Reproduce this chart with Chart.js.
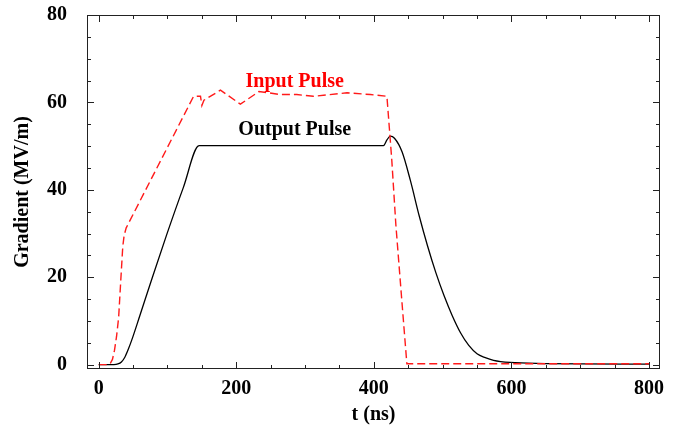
<!DOCTYPE html>
<html>
<head>
<meta charset="utf-8">
<script src="https://cdn.jsdelivr.net/npm/chart.js@4.4.1/dist/chart.umd.min.js"></script>
<style>
  html, body { margin: 0; padding: 0; background: #fff; }
  #wrap { width: 673px; height: 433px; }
</style>
</head>
<body>
<div id="wrap"><canvas id="pulseChart"></canvas></div>
<script>
// time axis (ns) and gradient (MV/m) for each pulse
const inputT = [0, 14, 17, 20, 23, 26, 29, 32, 35, 37, 40, 138, 148, 150, 153, 177, 206, 233, 247, 264, 288, 312, 361, 395, 419, 426, 432, 440, 448, 500, 600, 700, 800];
const inputG = [0, 0, 0.3, 1.2, 3.3, 6.5, 10.8, 19, 27, 29.6, 31.3, 61.4, 61.4, 59.3, 60.5, 62.8, 59.6, 62.5, 62.2, 61.8, 61.8, 61.4, 62.2, 61.8, 61.4, 47, 32, 16, 0.2, 0.2, 0.2, 0.2, 0.2];

const outputT = [0, 22, 28, 33, 38, 43, 48, 60, 75, 99, 123, 146, 300, 414, 419, 424, 430, 441, 453, 466, 478, 490, 502, 514, 526, 538, 550, 562, 574, 598, 650, 700, 800];
const outputG = [0, 0, 0.15, 0.6, 1.7, 3.5, 5.6, 11.3, 18.5, 29.8, 40.5, 50.1, 50.1, 50.1, 51.4, 52.3, 51.8, 48.7, 42.2, 34, 27.2, 21.1, 15.8, 11.2, 7.3, 4.4, 2.5, 1.6, 1.0, 0.5, 0.25, 0.15, 0.1];

const xMajor = [0, 200, 400, 600, 800];
const yMajor = [0, 20, 40, 60, 80];

// curve labels placed in data coordinates
const curveLabels = [
  { text: 'Input Pulse', t: 285, g: 64.7, color: '#ff0000' },
  { text: 'Output Pulse', t: 285, g: 53.8, color: '#000000' }
];

function toPoints(xs, ys) {
  return xs.map((x, i) => ({ x: x, y: ys[i] }));
}

const serif = '"Liberation Serif", "Times New Roman", serif';
Chart.defaults.color = '#000';

// frame, inward ticks on all four sides, and the curve labels
const framePlugin = {
  id: 'frame',
  afterDatasetsDraw(chart) {
    const { ctx, chartArea: a, scales } = chart;
    const xs = scales.x, ys = scales.y;
    ctx.save();
    ctx.strokeStyle = '#222';
    ctx.lineWidth = 1;
    ctx.strokeRect(a.left + 0.5, a.top + 0.5, a.right - a.left - 1, a.bottom - a.top - 1);
    ctx.beginPath();
    xs.ticks.forEach(tk => {
      const px = Math.round(xs.getPixelForValue(tk.value)) + 0.5;
      const len = xMajor.includes(tk.value) ? 7 : 4;
      ctx.moveTo(px, a.bottom); ctx.lineTo(px, a.bottom - len);
      ctx.moveTo(px, a.top); ctx.lineTo(px, a.top + len);
    });
    ys.ticks.forEach(tk => {
      const py = Math.round(ys.getPixelForValue(tk.value)) + 0.5;
      const len = yMajor.includes(tk.value) ? 7 : 4;
      ctx.moveTo(a.left, py); ctx.lineTo(a.left + len, py);
      ctx.moveTo(a.right, py); ctx.lineTo(a.right - len, py);
    });
    ctx.stroke();

    ctx.font = 'bold 20px ' + serif;
    ctx.textAlign = 'center';
    ctx.textBaseline = 'middle';
    curveLabels.forEach(l => {
      ctx.fillStyle = l.color;
      ctx.fillText(l.text, xs.getPixelForValue(l.t), ys.getPixelForValue(l.g));
    });
    ctx.restore();
  }
};

const ctx = document.getElementById('pulseChart').getContext('2d');

const pulseChart = new Chart(ctx, {
  type: 'scatter',
  data: {
    datasets: [
      {
        label: 'Input Pulse',
        data: toPoints(inputT, inputG),
        showLine: true,
        borderColor: '#ff1a1a',
        borderWidth: 1.4,
        borderDash: [8, 4],
        pointRadius: 0,
        tension: 0
      },
      {
        label: 'Output Pulse',
        data: toPoints(outputT, outputG),
        showLine: true,
        borderColor: '#000',
        borderWidth: 1.3,
        pointRadius: 0,
        cubicInterpolationMode: 'monotone'
      }
    ]
  },
  options: {
    responsive: true,
    maintainAspectRatio: false,
    animation: false,
    events: [],
    layout: { padding: { top: 15, right: 13, left: 0, bottom: 0 } },
    plugins: {
      legend: { display: false },
      tooltip: { enabled: false }
    },
    scales: {
      x: {
        type: 'linear',
        min: -17,
        max: 816,
        grid: { display: false },
        border: { display: false },
        ticks: {
          stepSize: 50,
          includeBounds: false,
          autoSkip: false,
          maxRotation: 0,
          padding: 0,
          font: { family: serif, size: 20, weight: 'bold' },
          callback: v => (xMajor.includes(v) ? String(v) : '')
        },
        title: {
          display: true,
          text: 't (ns)',
          padding: 6,
          font: { family: serif, size: 20, weight: 'bold' }
        },
        afterFit(scale) {
          scale.height = 64;
          scale.paddingLeft = 0;
          scale.paddingRight = 0;
        }
      },
      y: {
        type: 'linear',
        min: -1,
        max: 80,
        grid: { display: false },
        border: { display: false },
        ticks: {
          stepSize: 5,
          includeBounds: false,
          autoSkip: false,
          padding: 12,
          font: { family: serif, size: 20, weight: 'bold' },
          callback: v => (yMajor.includes(v) ? String(v) : '')
        },
        title: {
          display: true,
          text: 'Gradient (MV/m)',
          padding: 11,
          font: { family: serif, size: 20, weight: 'bold' }
        },
        afterFit(scale) {
          scale.width = 87;
          scale.paddingTop = 0;
          scale.paddingBottom = 0;
        }
      }
    }
  },
  plugins: [framePlugin]
});
</script>
</body>
</html>
